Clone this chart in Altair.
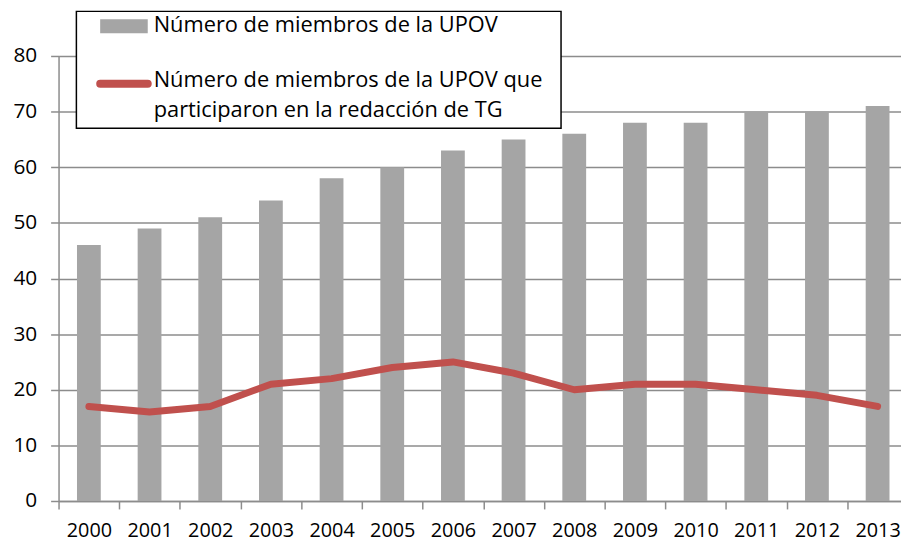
import altair as alt
import pandas as pd

years = ["2000", "2001", "2002", "2003", "2004", "2005", "2006",
         "2007", "2008", "2009", "2010", "2011", "2012", "2013"]
members = [46, 49, 51, 54, 58, 60, 63, 65, 66, 68, 68, 70, 70, 71]
drafting = [17, 16, 17, 21, 22, 24, 25, 23, 20, 21, 21, 20, 19, 17]
series_names = ["Número de miembros de la UPOV",
                "Número de miembros de la UPOV que\nparticiparon en la redacción de TG"]
y_ticks = [0, 10, 20, 30, 40, 50, 60, 70, 80]

BAR_COLOR = "#A5A5A5"
LINE_COLOR = "#C0504D"
GRID = "#8C8C8C"
FONT = "Open Sans"

df = pd.DataFrame({"year": years, "members": members, "drafting": drafting})

xs = alt.X("year:O", sort=years,
           scale=alt.Scale(paddingInner=0, paddingOuter=0),
           axis=alt.Axis(title=None, labelAngle=0, tickBand="extent",
                         domainColor=GRID, domainWidth=1.5, tickColor=GRID,
                         tickWidth=1.5, tickSize=8, labelFont=FONT,
                         labelFontSize=20, labelColor="#000000",
                         labelBaseline="alphabetic",
                         labelPadding=28, grid=False, labelOverlap=False))

ys = alt.Y("members:Q",
           scale=alt.Scale(domain=[0, 80], nice=False),
           axis=alt.Axis(title=None, values=y_ticks, grid=True, gridColor=GRID,
                         gridWidth=1.5, domainColor=GRID, domainWidth=1.5,
                         tickColor=GRID, tickWidth=1.5, tickSize=8,
                         labelFont=FONT, labelFontSize=21, labelColor="#000000",
                         labelPadding=14))

bars = alt.Chart(df).mark_bar(size=24, color=BAR_COLOR).encode(x=xs, y=ys)

line = alt.Chart(df).mark_line(color=LINE_COLOR, strokeWidth=7,
                               strokeJoin="round", strokeCap="round").encode(
    x=alt.X("year:O", sort=years),
    y=alt.Y("drafting:Q"))

leg_df = pd.DataFrame({"name": series_names})

box = alt.Chart(leg_df.head(1)).mark_rect(fill="white", stroke="black",
                                          strokeWidth=1.5).encode(
    x=alt.value(18), x2=alt.value(507), y=alt.value(-45), y2=alt.value(73))

swatch = alt.Chart(leg_df.head(1)).mark_rect(fill=BAR_COLOR).encode(
    x=alt.value(42), x2=alt.value(90), y=alt.value(-37), y2=alt.value(-23))

sym = alt.Chart(leg_df.head(1)).mark_rule(color=LINE_COLOR, strokeWidth=8,
                                          strokeCap="round").encode(
    x=alt.value(42), x2=alt.value(90), y=alt.value(28))

t1 = alt.Chart(leg_df.iloc[[0]]).mark_text(
    align="left", baseline="middle", font=FONT, fontSize=22,
    color="#000000").encode(text="name:N", x=alt.value(96), y=alt.value(-31))

t2 = alt.Chart(leg_df.iloc[[1]]).mark_text(
    align="left", baseline="top", font=FONT, fontSize=22, lineBreak="\n",
    lineHeight=31, color="#000000").encode(text="name:N", x=alt.value(96),
                                          y=alt.value(14))

chart = alt.layer(bars, line, box, swatch, sym, t1, t2).properties(
    width=857, height=449, autosize=alt.AutoSizeParams(type="none"),
    padding={"left": 51, "top": 46, "right": -7, "bottom": 43},
).configure_view(stroke=None).configure_axis(labelFont=FONT)

chart.save("out.html", embed_options={"renderer": "svg", "actions": False})
